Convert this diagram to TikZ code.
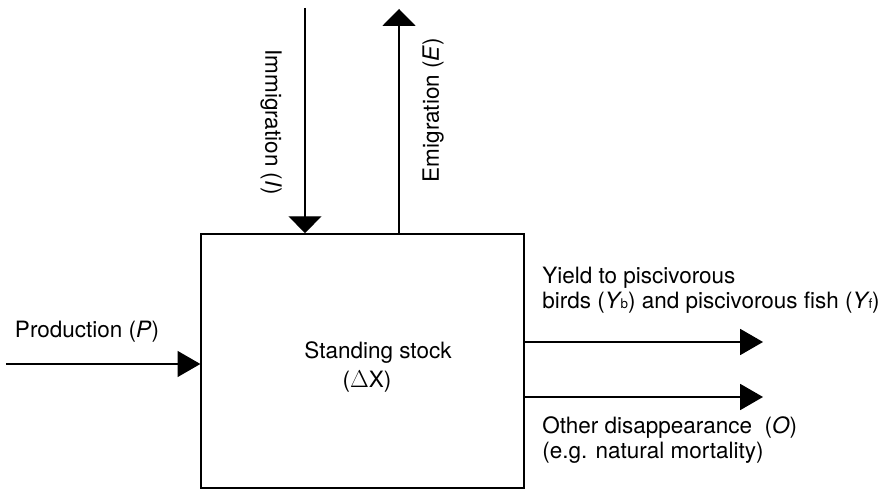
\documentclass[tikz,border=0pt]{standalone}
\usepackage{fontspec}
\setmainfont{TeX Gyre Heros}
\usetikzlibrary{arrows.meta}

\newcommand{\flowsub}[1]{{\kern-0.06em\fontsize{9.5}{10}\selectfont #1}}

\tikzset{
	flowtext/.style={font=\fontsize{16}{17.5}\selectfont, inner sep=0pt},
	hflow/.style={line width=0.9pt, -{Triangle[length=0.57cm,width=0.65cm]}},
	vflow/.style={line width=0.9pt, -{Triangle[length=0.42cm,width=0.82cm]}}
}

\begin{document}
		\begin{tikzpicture}
			\useasboundingbox (0,0) rectangle (21.975,12.25);

			\node[draw, line width=1.2pt, minimum width=8.07cm, minimum height=6.35cm, inner sep=0pt] (stock) at (9.065,3.225) {};
			\node[flowtext] (stockname) at (9.45,3.425) {Standing stock};
			\node[flowtext] (stockdelta) at (9.175,2.7) {($\Delta$X)};

			\coordinate (immsrc) at (7.625,12.05);
			\draw[vflow] (immsrc) -- (immsrc |- stock.north);
			\node[flowtext, rotate=-90] (immlabel) at (6.775,9.2) {Immigration (\textit{I})};

			\coordinate (emidst) at (9.975,12.025);
			\draw[vflow] (emidst |- stock.north) -- (emidst);
			\node[flowtext, rotate=90] (emilabel) at (10.825,9.5) {Emigration (\textit{E})};

			\coordinate (prodsrc) at (0.15,3.15);
			\draw[hflow] (prodsrc) -- (prodsrc -| stock.west);
			\node[flowtext] (prodlabel) at (2.175,3.95) {Production (\textit{P})};

			\coordinate (yielddst) at (19.075,3.7);
			\draw[hflow] (yielddst -| stock.east) -- (yielddst);
			\node[flowtext, anchor=west, align=left] (yieldlabel) at (13.55,5.0) {Yield to piscivorous\\birds (\textit{Y}\flowsub{b}) and piscivorous fish (\textit{Y}\flowsub{f})};

			\coordinate (otherdst) at (19.075,2.325);
			\draw[hflow] (otherdst -| stock.east) -- (otherdst);
			\node[flowtext, anchor=west, align=left] (otherlabel) at (13.55,1.25) {Other disappearance\ \ (\textit{O})\\(e.g. natural mortality)};
		\end{tikzpicture}
\end{document}
